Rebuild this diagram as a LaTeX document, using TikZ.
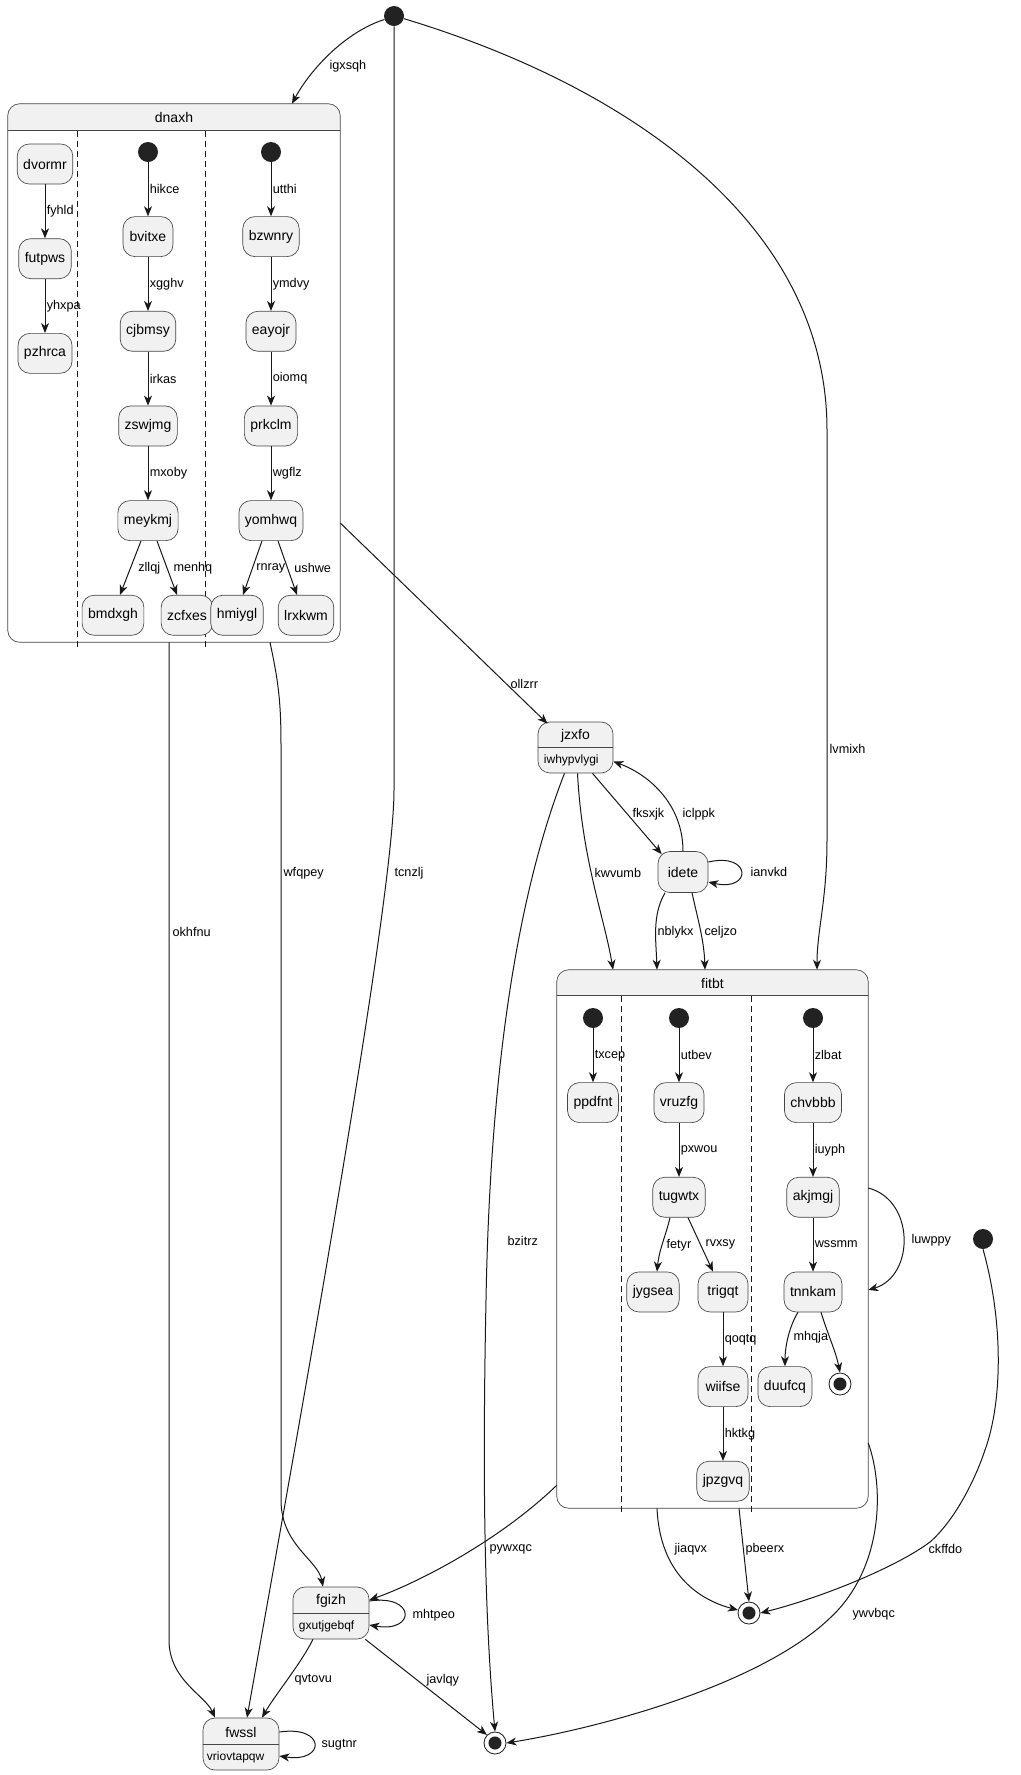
\documentclass[tikz,border=0pt]{standalone}
\usepackage{fontspec}
\setmainfont{Liberation Sans}
\usetikzlibrary{arrows.meta,positioning,calc}
\definecolor{statefill}{HTML}{F1F1F1}
\definecolor{lineblack}{HTML}{181818}
\definecolor{dotblack}{HTML}{222222}
\newcommand{\statefont}{\fontsize{10.5}{12.6}\selectfont}
\newcommand{\lblfont}{\fontsize{9.5}{11.4}\selectfont}
\newcommand{\attrfont}{\fontsize{9}{10.8}\selectfont}

\begin{document}
\begin{tikzpicture}[
    x=0.75pt, y=-0.75pt,
    node distance=40.5pt,
    state/.style={rectangle, draw=lineblack!80, line width=0.5pt, fill=statefill, rounded corners=9pt, minimum width=37.5pt, minimum height=30pt, inner xsep=4.5pt, font=\statefont},
    attrstate/.style={state, minimum width=57pt, minimum height=39pt},
    initial/.style={circle, fill=dotblack, minimum size=15pt, inner sep=0pt},
    finalstate/.style={circle, draw=lineblack, line width=0.6pt, fill=white, minimum size=16.5pt, inner sep=0pt, path picture={\fill[dotblack] (path picture bounding box.center) circle (4.9pt);}},
    cluster/.style={rectangle, inner sep=0pt, minimum height=403.5pt},
    sep/.style={draw=lineblack!80, line width=0.5pt},
    lane/.style={draw=lineblack, line width=0.75pt, dash pattern=on 4.5pt off 3pt},
    arrow/.style={-{Stealth[length=7.5pt, width=6pt, inset=2.2pt]}, draw=lineblack, line width=0.75pt},
    lbl/.style={font=\lblfont, inner sep=1pt, anchor=west},
    nametext/.style={font=\statefont, inner sep=0pt},
    attrtext/.style={font=\attrfont, inner sep=0pt, anchor=west}
]
\path[use as bounding box, fill=white] (0,0) rectangle (1021,1775);

% Composite dnaxh
\node[cluster, minimum width=249pt] (dnaxh) at (174,373) {};
\begin{scope}
  \clip[rounded corners=9pt] (dnaxh.north west) rectangle (dnaxh.south east);
  \fill[statefill] (dnaxh.north west) rectangle ($(dnaxh.north east)+(0,27)$);
\end{scope}
\draw[sep] ($(dnaxh.north west)+(0,27)$) -- ($(dnaxh.north east)+(0,27)$);
\draw[sep, rounded corners=9pt] (dnaxh.north west) rectangle (dnaxh.south east);
\node[nametext] (dnaxh-name) at ($(dnaxh.north)+(0,14)$) {dnaxh};
\draw[lane] (77,131) -- (77,647);
\draw[lane] (205,131) -- (205,647);

% Composite fitbt
\node[cluster, minimum width=233.25pt] (fitbt) at (712.5,1239) {};
\begin{scope}
  \clip[rounded corners=9pt] (fitbt.north west) rectangle (fitbt.south east);
  \fill[statefill] (fitbt.north west) rectangle ($(fitbt.north east)+(0,26)$);
\end{scope}
\draw[sep] ($(fitbt.north west)+(0,26)$) -- ($(fitbt.north east)+(0,26)$);
\draw[sep, rounded corners=9pt] (fitbt.north west) rectangle (fitbt.south east);
\node[nametext] (fitbt-name) at ($(fitbt.north)+(0,14)$) {fitbt};
\draw[lane] (621,996) -- (621,1512);
\draw[lane] (751,996) -- (751,1512);

% dnaxh, region 1
\node[state] (dvormr) at (45,164) {dvormr};
\node[state, below=of dvormr] (futpws) {futpws};
\node[state, below=of futpws] (pzhrca) {pzhrca};
% dnaxh, region 2
\node[initial] (initb) at (148,152) {};
\node[state, below=of initb] (bvitxe) {bvitxe};
\node[state, below=of bvitxe] (cjbmsy) {cjbmsy};
\node[state, below=of cjbmsy] (zswjmg) {zswjmg};
\node[state, below=of zswjmg] (meykmj) {meykmj};
\node[state, below=of meykmj, xshift=-26.25pt] (bmdxgh) {bmdxgh};
\node[state, below=of meykmj, xshift=29.25pt] (zcfxes) {zcfxes};
% dnaxh, region 3
\node[initial] (initc) at (271,152) {};
\node[state, below=of initc] (bzwnry) {bzwnry};
\node[state, below=of bzwnry] (eayojr) {eayojr};
\node[state, below=of eayojr] (prkclm) {prkclm};
\node[state, below=of prkclm] (yomhwq) {yomhwq};
\node[state, below=of yomhwq, xshift=-25.5pt] (hmiygl) {hmiygl};
\node[state, below=of yomhwq, xshift=26.25pt] (lrxkwm) {lrxkwm};

% fitbt, region 1
\node[initial] (initd) at (593,1018) {};
\node[state, below=of initd] (ppdfnt) {ppdfnt};
% fitbt, region 2
\node[initial] (inite) at (679,1018) {};
\node[state, below=of inite] (vruzfg) {vruzfg};
\node[state, below=of vruzfg] (tugwtx) {tugwtx};
\node[state, below=of tugwtx, xshift=-19.5pt] (jygsea) {jygsea};
\node[state, below=of tugwtx, xshift=33pt] (trigqt) {trigqt};
\node[state, below=of trigqt] (wiifse) {wiifse};
\node[state, below=of wiifse] (jpzgvq) {jpzgvq};
% fitbt, region 3
\node[initial] (initf) at (813,1018) {};
\node[state, below=of initf] (chvbbb) {chvbbb};
\node[state, below=of chvbbb] (akjmgj) {akjmgj};
\node[state, below=of akjmgj] (tnnkam) {tnnkam};
\node[state, below=of tnnkam, xshift=-21pt] (duufcq) {duufcq};
\node[finalstate] (finalf) at (840,1384) {};

% Top level states
\node[initial] (topinit) at (394,16) {};
\node[initial] (rightinit) at (983,1239) {};
\node[finalstate] (finala) at (749,1613) {};
\node[finalstate] (finalb) at (495,1743) {};
\node[state, minimum width=37.5pt, minimum height=30.75pt] (idete) at (683,872) {idete};

\node[attrstate, minimum width=56.25pt, minimum height=38.25pt] (jzxfo) at (575.5,747.5) {};
\draw[sep] (jzxfo.west) -- (jzxfo.east);
\node[nametext] (jzxfo-name) at ($(jzxfo.center)+(0,-12)$) {jzxfo};
\node[attrtext] (jzxfo-attr) at ($(jzxfo.west)+(6,13)$) {iwhypvlygi};

\node[attrstate] (fgizh) at (331,1613) {};
\draw[sep] (fgizh.west) -- (fgizh.east);
\node[nametext] (fgizh-name) at ($(fgizh.center)+(0,-12)$) {fgizh};
\node[attrtext] (fgizh-attr) at ($(fgizh.west)+(6,13)$) {gxutjgebqf};

\node[attrstate] (fwssl) at (241,1744) {};
\draw[sep] (fwssl.west) -- (fwssl.east);
\node[nametext] (fwssl-name) at ($(fwssl.center)+(0,-12)$) {fwssl};
\node[attrtext] (fwssl-attr) at ($(fwssl.west)+(4,13)$) {vriovtapqw};

% Transitions inside dnaxh
\draw[arrow] (dvormr) -- node[lbl] {fyhld} (futpws);
\draw[arrow] (futpws) -- node[lbl] {yhxpa} (pzhrca);
\draw[arrow] (initb) -- node[lbl] {hikce} (bvitxe);
\draw[arrow] (bvitxe) -- node[lbl] {xgghv} (cjbmsy);
\draw[arrow] (cjbmsy) -- node[lbl] {irkas} (zswjmg);
\draw[arrow] (zswjmg) -- node[lbl] {mxoby} (meykmj);
\draw[arrow] ($(meykmj.south)+(-7,0)$) -- node[lbl, xshift=4.5pt] {zllqj} ($(bmdxgh.north)+(7,0)$);
\draw[arrow] ($(meykmj.south)+(9,0)$) -- node[lbl, xshift=3.5pt] {menhq} ($(zcfxes.north)+(-10,0)$);
\draw[arrow] (initc) -- node[lbl] {utthi} (bzwnry);
\draw[arrow] (bzwnry) -- node[lbl] {ymdvy} (eayojr);
\draw[arrow] (eayojr) -- node[lbl] {oiomq} (prkclm);
\draw[arrow] (prkclm) -- node[lbl] {wgflz} (yomhwq);
\draw[arrow] ($(yomhwq.south)+(-9,0)$) -- node[lbl, xshift=1.6pt] {rnray} ($(hmiygl.north)+(6,0)$);
\draw[arrow] ($(yomhwq.south)+(7,0)$) -- node[lbl, xshift=3.8pt] {ushwe} ($(lrxkwm.north)+(-9,0)$);

% Transitions inside fitbt
\draw[arrow] (initd) -- node[lbl] {txcep} (ppdfnt);
\draw[arrow] (inite) -- node[lbl] {utbev} (vruzfg);
\draw[arrow] (vruzfg) -- node[lbl] {pxwou} (tugwtx);
\draw[arrow] ($(tugwtx.south)+(-9,0)$) .. controls (666,1235) and (659,1250) .. ($(jygsea.north)+(4,0)$);
\node[lbl] (l-fetyr) at (665,1245) {fetyr};
\draw[arrow] ($(tugwtx.south)+(9,0)$) -- node[lbl, xshift=2.4pt] {rvxsy} ($(trigqt.north)+(-10,0)$);
\draw[arrow] (trigqt) -- node[lbl] {qoqtq} (wiifse);
\draw[arrow] (wiifse) -- node[lbl] {hktkg} (jpzgvq);
\draw[arrow] (initf) -- node[lbl] {zlbat} (chvbbb);
\draw[arrow] (chvbbb) -- node[lbl] {iuyph} (akjmgj);
\draw[arrow] (akjmgj) -- node[lbl] {wssmm} (tnnkam);
\draw[arrow] ($(tnnkam.south)+(-15,0)$) .. controls (790,1325) and (785,1345) .. (duufcq.north);
\node[lbl] (l-mhqja) at (792,1337) {mhqja};
\draw[arrow] ($(tnnkam.south)+(8,0)$) .. controls (828,1335) and (836,1352) .. (finalf.north);

% Transitions at top level
\draw[arrow] (topinit.200) .. controls (345,32) and (310,70) .. ($(dnaxh.north)+(118,0)$);
\node[lbl] (l-igxsqh) at (328,66) {igxsqh};
\draw[arrow] (topinit.south) -- (394,790) .. controls (394,900) and (300,1420) .. ($(fwssl.north)+(6,0)$);
\node[lbl] (l-tcnzlj) at (393,873) {tcnzlj};
\draw[arrow] (topinit.-15) .. controls (640,90) and (827,230) .. (827,430) -- (827,840) .. controls (827,900) and (817,930) .. ($(fitbt.north)+(104.5,0)$);
\node[lbl] (l-lvmixh) at (828,749) {lvmixh};
\draw[arrow] ($(dnaxh.east)+(0,150)$) -- ($(jzxfo.north)+(-28,2)$);
\node[lbl] (l-ollzrr) at (509,684) {ollzrr};
\draw[arrow] ($(dnaxh.south)+(-5,0)$) -- (169,1640) .. controls (169,1680) and (205,1695) .. ($(fwssl.north)+(-26,0)$);
\node[lbl] (l-okhfnu) at (171,932) {okhfnu};
\draw[arrow] ($(dnaxh.south)+(96,0)$) .. controls (278,680) and (281,700) .. (281,745) -- (281,1500) .. controls (281,1545) and (318,1560) .. ($(fgizh.north)+(-8,0)$);
\node[lbl] (l-wfqpey) at (282,873) {wfqpey};
\draw[arrow] ($(jzxfo.south)+(-11,0)$) .. controls (515,900) and (490,1080) .. (486,1300) .. controls (483,1450) and (483,1600) .. (finalb.north);
\node[lbl] (l-bzitrz) at (506,1241) {bzitrz};
\draw[arrow] ($(jzxfo.south)+(2,0)$) .. controls (582,860) and (605,920) .. ($(fitbt.north)+(-99.5,0)$);
\node[lbl] (l-kwvumb) at (593,873) {kwvumb};
\draw[arrow] ($(jzxfo.south)+(17,0)$) -- ($(idete.north west)+(4,3)$);
\node[lbl] (l-fksxjk) at (631,814) {fksxjk};
\draw[arrow] (idete.north) .. controls (683,805) and (650,775) .. ($(jzxfo.east)+(0,14)$);
\node[lbl] (l-iclppk) at (681,814) {iclppk};
\draw[arrow] ($(idete.east)+(0,-10)$) .. controls (752,852) and (752,892) .. ($(idete.east)+(0,10)$);
\node[lbl] (l-ianvkd) at (749,872) {ianvkd};
\draw[arrow] ($(idete.south)+(-18,0)$) .. controls (652,915) and (656,940) .. ($(fitbt.north)+(-55.5,0)$);
\node[lbl] (l-nblykx) at (656,932) {nblykx};
\draw[arrow] ($(idete.south)+(9,0)$) .. controls (698,920) and (704,940) .. ($(fitbt.north)+(-7.5,0)$);
\node[lbl] (l-celjzo) at (703,932) {celjzo};
\draw[arrow] ($(fitbt.east)+(0,-51)$) .. controls (915,1200) and (915,1276) .. ($(fitbt.east)+(0,51)$);
\node[lbl] (l-luwppy) at (910,1240) {luwppy};
\draw[arrow] ($(fitbt.south west)+(0,-23)$) .. controls (500,1540) and (420,1582) .. ($(fgizh.east)+(0,-13)$);
\node[lbl] (l-pywxqc) at (488,1549) {pywxqc};
\draw[arrow] ($(fitbt.south)+(-55.5,0)$) .. controls (660,1575) and (700,1600) .. (finala.165);
\node[lbl] (l-jiaqvx) at (673,1549) {jiaqvx};
\draw[arrow] ($(fitbt.south)+(26.5,0)$) -- (finala.north);
\node[lbl] (l-pbeerx) at (744,1549) {pbeerx};
\draw[arrow] (rightinit.south) .. controls (1003,1320) and (1003,1400) .. (985,1450) .. controls (975,1480) and (955,1520) .. (930,1542) .. controls (895,1568) and (820,1598) .. (finala.east);
\node[lbl] (l-ckffdo) at (927,1549) {ckffdo};
\draw[arrow] ($(fitbt.east)+(0,204)$) .. controls (885,1490) and (882,1570) .. (830,1618) .. controls (760,1685) and (600,1728) .. (finalb.east);
\node[lbl] (l-ywvbqc) at (851,1614) {ywvbqc};
\draw[arrow] ($(fgizh.east)+(0,-12)$) .. controls (416,1594) and (416,1633) .. ($(fgizh.east)+(0,12)$);
\node[lbl] (l-mhtpeo) at (411,1615) {mhtpeo};
\draw[arrow] ($(fgizh.south east)+(-4,0)$) -- (finalb.north west);
\node[lbl] (l-javlqy) at (425,1680) {javlqy};
\draw[arrow] ($(fgizh.south)+(-18,0)$) .. controls (300,1665) and (275,1695) .. ($(fwssl.north)+(21,0)$);
\node[lbl] (l-qvtovu) at (293,1680) {qvtovu};
\draw[arrow] ($(fwssl.east)+(0,-12)$) .. controls (326,1725) and (326,1763) .. ($(fwssl.east)+(0,12)$);
\node[lbl] (l-sugtnr) at (320,1745) {sugtnr};

\end{tikzpicture}
\end{document}
